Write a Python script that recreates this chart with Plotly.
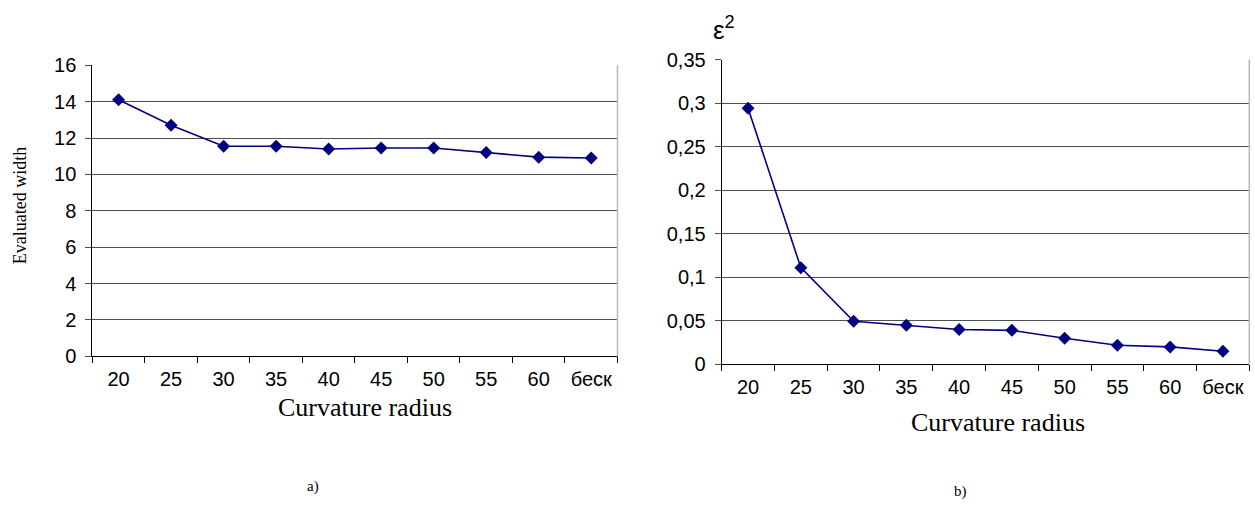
import plotly.graph_objects as go

categories = ["20", "25", "30", "35", "40", "45", "50", "55", "60", "беск"]
width_values = [14.1, 12.7, 11.55, 11.55, 11.4, 11.45, 11.45, 11.2, 10.95, 10.9]
eps_values = [0.294, 0.111, 0.0495, 0.045, 0.040, 0.039, 0.030, 0.022, 0.020, 0.015]

left_tickvals = [0, 2, 4, 6, 8, 10, 12, 14, 16]
left_ticktext = ["0", "2", "4", "6", "8", "10", "12", "14", "16"]
right_tickvals = [0, 0.05, 0.1, 0.15, 0.2, 0.25, 0.3, 0.35]
right_ticktext = ["0", "0,05", "0,1", "0,15", "0,2", "0,25", "0,3", "0,35"]

W, H = 1255, 509
NAVY = "#000080"
GRID = "#4d4d4d"
TICKFONT = dict(family="Liberation Sans, Arial", size=20, color="#000")
SERIF = "Liberation Serif, Times New Roman"

def px(x):
    return x / W

def py(y):
    return 1 - y / H

fig = go.Figure()
fig.add_trace(go.Scatter(x=categories, y=width_values, mode="lines+markers",
                         line=dict(color=NAVY, width=1.6),
                         marker=dict(symbol="diamond", size=10, color=NAVY),
                         xaxis="x", yaxis="y", showlegend=False))
fig.add_trace(go.Scatter(x=categories, y=eps_values, mode="lines+markers",
                         line=dict(color=NAVY, width=1.6),
                         marker=dict(symbol="diamond", size=10, color=NAVY),
                         xaxis="x2", yaxis="y2", showlegend=False))

xcommon = dict(type="category", range=[-0.5, 9.5], tickson="boundaries",
               ticks="outside", ticklen=6, tickcolor="#000", showgrid=False,
               showline=True, linecolor="#000", linewidth=1, tickfont=TICKFONT,
               zeroline=False, fixedrange=True, ticklabelstandoff=5)
ycommon = dict(showgrid=True, gridcolor=GRID, gridwidth=1, ticks="outside",
               ticklen=6, tickcolor=GRID, showline=True, linecolor="#000",
               linewidth=1, tickfont=TICKFONT, zeroline=False, ticklabelstandoff=5)

fig.update_layout(
    width=W, height=H,
    margin=dict(l=0, r=0, t=0, b=0),
    paper_bgcolor="white", plot_bgcolor="white",
    xaxis=dict(domain=[px(92.3), px(617.5)], anchor="y", **xcommon),
    yaxis=dict(domain=[py(361), py(56.7)], anchor="x", range=[0, 16],
               tickvals=left_tickvals, ticktext=left_ticktext, **ycommon),
    xaxis2=dict(domain=[px(721.7), px(1249.3)], anchor="y2", **xcommon),
    yaxis2=dict(domain=[py(369.3), py(50.7)], anchor="x2", range=[0, 0.35],
                tickvals=right_tickvals, ticktext=right_ticktext, **ycommon),
)

# right borders of plot areas
fig.add_shape(type="line", xref="x domain", yref="y domain", x0=1, x1=1, y0=0, y1=1,
              line=dict(color="#b8b8b8", width=1.5))
fig.add_shape(type="line", xref="x2 domain", yref="y2 domain", x0=1, x1=1, y0=0, y1=1,
              line=dict(color="#b8b8b8", width=1.5))

ann = [
    dict(text="Curvature radius", x=px(365), y=py(414), font=dict(family=SERIF, size=26)),
    dict(text="Curvature radius", x=px(998), y=py(430), font=dict(family=SERIF, size=26)),
    dict(text="Evaluated width", x=px(20), y=py(204), textangle=-90, font=dict(family=SERIF, size=18)),
    dict(text="ε<sup>2</sup>", x=px(724), y=py(18), font=dict(family="Liberation Sans, Arial", size=26)),
    dict(text="a)", x=px(313), y=py(497), font=dict(family=SERIF, size=15)),
    dict(text="b)", x=px(960), y=py(502), font=dict(family=SERIF, size=15)),
]
for a in ann:
    a.update(xref="paper", yref="paper", showarrow=False, xanchor="center", yanchor="middle")
    a["font"]["color"] = "#000"
    fig.add_annotation(**a)

fig.write_html("out.html")
